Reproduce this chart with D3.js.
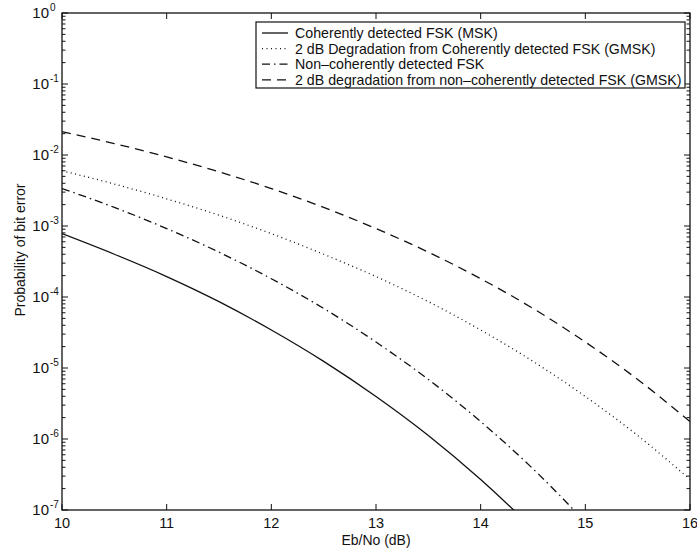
<!DOCTYPE html>
<html>
<head>
<meta charset="utf-8">
<script src="https://cdn.jsdelivr.net/npm/d3@7"></script>
<style>
  body { margin: 0; background: #fff; }
  svg { font-family: 'Liberation Sans', Arial, sans-serif; }
</style>
</head>
<body>
<svg id="chart" width="697" height="551"></svg>
<script>
// Eb/No (dB) sample points
var ebno = [10, 10.5, 11, 11.5, 12, 12.5, 13, 13.5, 14, 14.5, 15, 15.5, 16]

// bit error probabilities
var coherentMSK = [7.8e-4, 4.0e-4, 1.94e-4, 8.6e-5, 3.43e-5, 1.24e-5, 3.97e-6, 1.12e-6, 2.69e-7, 5.5e-8, null, null, null]
var coherentGMSK = [6.0e-3, 3.9e-3, 2.41e-3, 1.42e-3, 7.8e-4, 4.0e-4, 1.94e-4, 8.6e-5, 3.43e-5, 1.24e-5, 3.97e-6, 1.12e-6, 2.69e-7]
var noncoherent = [3.37e-3, 1.83e-3, 9.2e-4, 4.28e-4, 1.81e-4, 6.9e-5, 2.32e-5, 6.9e-6, 1.76e-6, 3.8e-7, 6.8e-8, null, null]
var noncoherentGMSK = [2.13e-2, 1.45e-2, 9.4e-3, 5.8e-3, 3.37e-3, 1.83e-3, 9.2e-4, 4.28e-4, 1.81e-4, 6.9e-5, 2.32e-5, 6.9e-6, 1.76e-6]

var seriesNames = [
  'Coherently detected FSK (MSK)',
  '2 dB Degradation from Coherently detected FSK (GMSK)',
  'Non\u2013coherently detected FSK',
  '2 dB degradation from non\u2013coherently detected FSK (GMSK)'
]
var xTicks = [10, 11, 12, 13, 14, 15, 16]
var yExps = [0, -1, -2, -3, -4, -5, -6, -7]

var series = [
  {name: seriesNames[0], values: coherentMSK, dash: null},
  {name: seriesNames[1], values: coherentGMSK, dash: '1,3.5'},
  {name: seriesNames[2], values: noncoherent, dash: '8,4,1.5,4'},
  {name: seriesNames[3], values: noncoherentGMSK, dash: '9,6'}
]

var svg = d3.select('#chart'),
  margin = {top: 13, right: 7, bottom: 41, left: 62},
  width = +svg.attr('width') - margin.left - margin.right,
  height = +svg.attr('height') - margin.top - margin.bottom,
  g = svg.append('g').attr('transform', 'translate(' + margin.left + ',' + margin.top + ')')

var x = d3.scaleLinear().domain([10, 16]).range([0, width])
var y = d3.scaleLog().domain([1e-7, 1]).range([height, 0])

svg.append('defs').append('clipPath').attr('id', 'clip')
  .append('rect').attr('width', width).attr('height', height)

// minor log ticks
var minor = []
yExps.slice(0, -1).forEach(function(e) {
  for (var k = 2; k <= 9; k++) minor.push(k * Math.pow(10, e - 1))
})

var ticks = g.append('g').attr('stroke', '#111').attr('stroke-width', 1)

xTicks.forEach(function(t) {
  ticks.append('line').attr('x1', x(t)).attr('x2', x(t)).attr('y1', height).attr('y2', height - 6)
  ticks.append('line').attr('x1', x(t)).attr('x2', x(t)).attr('y1', 0).attr('y2', 6)
})
yExps.forEach(function(e) {
  var v = y(Math.pow(10, e))
  ticks.append('line').attr('x1', 0).attr('x2', 6).attr('y1', v).attr('y2', v)
  ticks.append('line').attr('x1', width).attr('x2', width - 6).attr('y1', v).attr('y2', v)
})
minor.forEach(function(m) {
  var v = y(m)
  ticks.append('line').attr('x1', 0).attr('x2', 3.5).attr('y1', v).attr('y2', v)
  ticks.append('line').attr('x1', width).attr('x2', width - 3.5).attr('y1', v).attr('y2', v)
})

// frame
g.append('rect').attr('width', width).attr('height', height)
  .attr('fill', 'none').attr('stroke', '#111').attr('stroke-width', 1.3)

// tick labels
g.append('g').selectAll('text')
  .data(xTicks).enter().append('text')
  .attr('x', function(d) { return x(d) })
  .attr('y', height + 18)
  .attr('text-anchor', 'middle')
  .attr('font-size', 14.5)
  .attr('fill', '#111')
  .text(function(d) { return d })

var yl = g.append('g').selectAll('text')
  .data(yExps).enter().append('text')
  .attr('x', -13)
  .attr('y', function(d) { return y(Math.pow(10, d)) + 5 })
  .attr('text-anchor', 'end')
  .attr('font-size', 15)
  .attr('fill', '#111')
yl.text('10')
yl.append('tspan').attr('x', -12).attr('dy', -7)
  .attr('text-anchor', 'start')
  .attr('font-size', 10)
  .text(function(d) { return d === 0 ? '0' : '-' + (-d) })

// axis titles
svg.append('text')
  .attr('x', margin.left + width / 2)
  .attr('y', 545)
  .attr('text-anchor', 'middle')
  .attr('font-size', 14)
  .attr('fill', '#111')
  .text('Eb/No (dB)')

svg.append('text')
  .attr('transform', 'translate(25,250) rotate(-90)')
  .attr('text-anchor', 'middle')
  .attr('font-size', 14)
  .attr('fill', '#111')
  .text('Probability of bit error')

// curves
var line = d3.line()
  .defined(function(d) { return d[1] != null })
  .x(function(d) { return x(d[0]) })
  .y(function(d) { return y(d[1]) })
  .curve(d3.curveMonotoneX)

g.append('g').attr('clip-path', 'url(#clip)')
  .selectAll('path')
  .data(series).enter().append('path')
  .attr('d', function(s) { return line(ebno.map(function(e, i) { return [e, s.values[i]] })) })
  .attr('fill', 'none')
  .attr('stroke', '#111')
  .attr('stroke-width', 1.3)
  .attr('stroke-dasharray', function(s) { return s.dash })

// legend
var lg = svg.append('g').attr('transform', 'translate(256,22)')
lg.append('rect').attr('width', 429).attr('height', 66)
  .attr('fill', '#fff').attr('stroke', '#111').attr('stroke-width', 1.2)

var item = lg.selectAll('g.item')
  .data(series).enter().append('g')
  .attr('class', 'item')
  .attr('transform', function(d, i) { return 'translate(0,' + (11 + i * 15.6) + ')' })

item.append('line')
  .attr('x1', 6).attr('x2', 32)
  .attr('stroke', '#111').attr('stroke-width', 1.3)
  .attr('stroke-dasharray', function(s) { return s.dash })

item.append('text')
  .attr('x', 39)
  .attr('y', 5)
  .attr('font-size', 14.2)
  .attr('fill', '#111')
  .text(function(s) { return s.name })
</script>
</body>
</html>
